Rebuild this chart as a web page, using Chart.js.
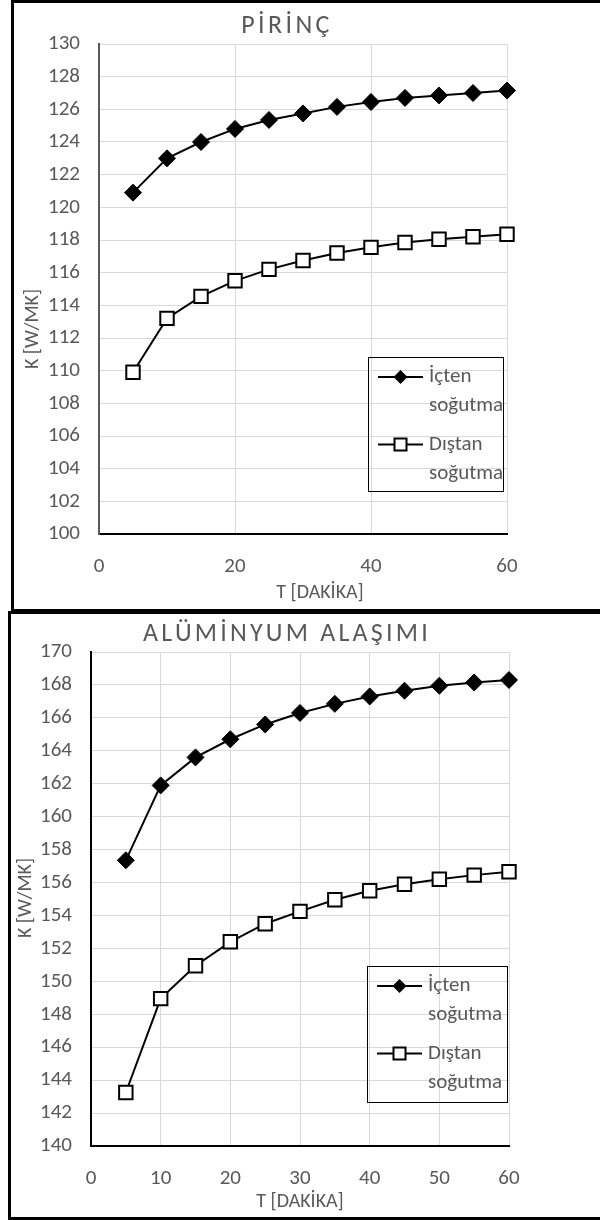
<!DOCTYPE html>
<html>
<head>
<meta charset="utf-8">
<script src="https://cdn.jsdelivr.net/npm/chart.js@4.4.1/dist/chart.umd.min.js"></script>
<style>
  html, body { margin: 0; padding: 0; background: #fff; overflow: hidden; width: 600px; height: 1220px; }
  .frame { position: absolute; border: 3px solid #000; background: #fff; }
  #f1 { left: 11px; top: 0; width: 586px; height: 606px; }
  #f2 { left: 8px; top: 611px; width: 589px; height: 603px; }
  canvas { display: block; }
</style>
</head>
<body>
<div class="frame" id="f1"><canvas id="pirinc" width="586" height="606"></canvas></div>
<div class="frame" id="f2"><canvas id="aluminyum" width="589" height="603"></canvas></div>
<script>
// data
const minutes = [5, 10, 15, 20, 25, 30, 35, 40, 45, 50, 55, 60];
const pirincIcten  = [120.9, 123.0, 124.0, 124.8, 125.35, 125.75, 126.15, 126.45, 126.7, 126.85, 127.0, 127.15];
const pirincDistan = [109.9, 113.2, 114.55, 115.5, 116.2, 116.75, 117.2, 117.55, 117.85, 118.05, 118.2, 118.35];
const aluIcten  = [157.35, 161.9, 163.6, 164.7, 165.6, 166.3, 166.85, 167.3, 167.65, 167.95, 168.15, 168.3];
const aluDistan = [143.25, 148.95, 150.95, 152.4, 153.5, 154.25, 154.95, 155.5, 155.9, 156.2, 156.45, 156.65];
const seriesLabels = ['İçten soğutma', 'Dıştan soğutma'];
const xTitle = 'T [DAKİKA]';
const yTitle = 'K [W/MK]';

const GRAY = '#595959';
const FONT = 'Carlito, Calibri, Lato, "Open Sans", sans-serif';

const toPoints = (ys) => minutes.map((m, i) => ({ x: m, y: ys[i] }));

// chart title (letter spaced), axis titles, framed legend inside the plot
const decor = {
  id: 'decor',
  afterDraw(chart, args, o) {
    const { ctx, chartArea: a } = chart;
    ctx.save();
    ctx.fillStyle = GRAY;
    ctx.textAlign = 'center';
    ctx.textBaseline = 'middle';
    ctx.font = '26px ' + FONT;
    ctx.letterSpacing = o.spacing + 'px';
    ctx.fillText(o.title, o.titleX, o.titleY);
    ctx.letterSpacing = '0px';

    ctx.font = '20px ' + FONT;
    ctx.fillText(xTitle, o.xTitle[0], o.xTitle[1]);
    ctx.save();
    ctx.translate(o.yTitle[0], o.yTitle[1]);
    ctx.rotate(-Math.PI / 2);
    ctx.fillText(yTitle, 0, 0);
    ctx.restore();

    const bx = Math.round(a.right - o.boxRight - o.boxW);
    const by = Math.round(a.bottom - o.boxBottom - o.boxH);
    ctx.strokeStyle = '#000';
    ctx.lineWidth = 1;
    ctx.strokeRect(bx + 0.5, by + 0.5, o.boxW, o.boxH);

    chart.data.datasets.forEach((ds, i) => {
      const y = by + 20 + i * 67.5;
      ctx.strokeStyle = ds.borderColor;
      ctx.lineWidth = 2;
      ctx.beginPath();
      ctx.moveTo(bx + 10, y);
      ctx.lineTo(bx + 55, y);
      ctx.stroke();
      const cx = bx + 32.5;
      ctx.fillStyle = ds.pointBackgroundColor;
      ctx.beginPath();
      if (ds.pointStyle === 'rectRot') {
        ctx.moveTo(cx - 7, y); ctx.lineTo(cx, y - 7); ctx.lineTo(cx + 7, y); ctx.lineTo(cx, y + 7);
        ctx.closePath();
        ctx.fill();
      } else {
        ctx.rect(cx - 6, y - 6, 12, 12);
        ctx.fill();
        ctx.lineWidth = 2;
        ctx.stroke();
      }
      ctx.font = '21px ' + FONT;
      ctx.fillStyle = GRAY;
      ctx.textAlign = 'left';
      ds.label.split(' ').forEach((w, j) => ctx.fillText(w, bx + 61, y + j * 29));
    });
    ctx.restore();
  }
};

function makeChart(id, c) {
  return new Chart(document.getElementById(id), {
    type: 'line',
    data: {
      datasets: [
        {
          label: seriesLabels[0], data: toPoints(c.icten),
          borderColor: '#000', borderWidth: 2, tension: 0, clip: false,
          pointStyle: 'rectRot', pointRadius: 8.5, pointBackgroundColor: '#000', pointBorderColor: '#000', pointBorderWidth: 1
        },
        {
          label: seriesLabels[1], data: toPoints(c.distan),
          borderColor: '#000', borderWidth: 2, tension: 0, clip: false,
          pointStyle: 'rect', pointRadius: 9.5, pointBackgroundColor: '#fff', pointBorderColor: '#000', pointBorderWidth: 2
        }
      ]
    },
    options: {
      responsive: false,
      animation: false,
      layout: { padding: { top: c.padTop, right: c.padRight, left: 0, bottom: 0 } },
      plugins: {
        legend: { display: false },
        tooltip: { enabled: false },
        decor: {
          title: c.title, titleX: c.titleX, titleY: c.titleY, spacing: c.spacing,
          xTitle: c.xTitle, yTitle: c.yTitle,
          boxW: c.boxW, boxH: c.boxH, boxRight: c.boxRight, boxBottom: c.boxBottom
        }
      },
      scales: {
        x: {
          type: 'linear', min: 0, max: 60,
          ticks: { stepSize: c.xStep, padding: 20, color: GRAY, font: { family: FONT, size: 21 } },
          grid: { color: '#d9d9d9', drawTicks: false },
          border: { color: '#000', width: 2 },
          afterFit(s) { s.height = c.xH; }
        },
        y: {
          min: c.yMin, max: c.yMax,
          ticks: { stepSize: 2, padding: 19, color: GRAY, font: { family: FONT, size: 21 } },
          grid: { color: '#d9d9d9', drawTicks: false },
          border: { color: c.yBorder, width: 2 },
          afterFit(s) { s.width = c.yW; }
        }
      }
    },
    plugins: [decor]
  });
}

makeChart('pirinc', {
  icten: pirincIcten, distan: pirincDistan,
  title: 'PİRİNÇ', titleX: 273, titleY: 23, spacing: 3.4,
  xTitle: [306, 590], yTitle: [19, 326],
  yMin: 100, yMax: 130, xStep: 20,
  padTop: 41, padRight: 93, xH: 75, yW: 85, yBorder: GRAY,
  boxW: 135, boxH: 134, boxRight: 4, boxBottom: 43
});

makeChart('aluminyum', {
  icten: aluIcten, distan: aluDistan,
  title: 'ALÜMİNYUM ALAŞIMI', titleX: 276, titleY: 20, spacing: 3.2,
  xTitle: [289, 588], yTitle: [15, 284],
  yMin: 140, yMax: 170, xStep: 10,
  padTop: 38, padRight: 91, xH: 71, yW: 80, yBorder: '#000',
  boxW: 140, boxH: 136, boxRight: 2, boxBottom: 44
});
</script>
</body>
</html>
